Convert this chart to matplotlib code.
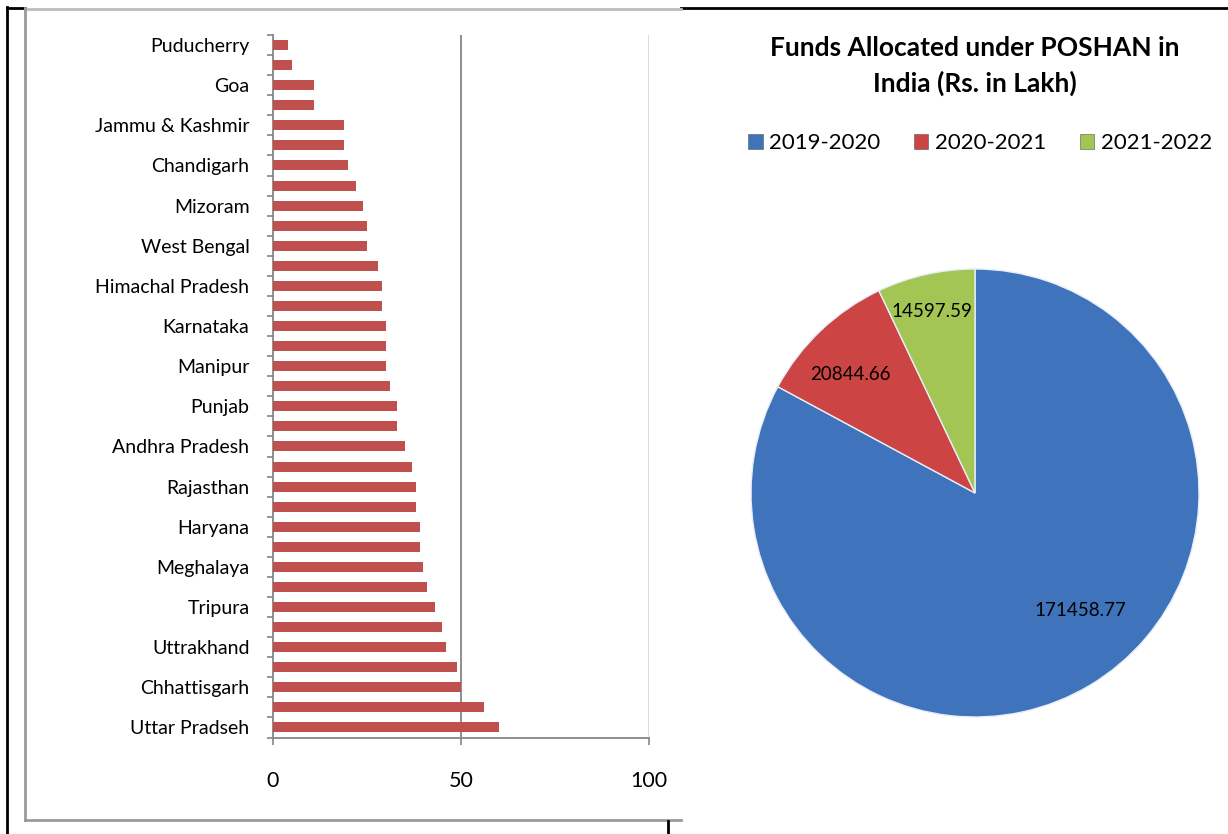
import matplotlib
matplotlib.use('Agg')
import matplotlib.pyplot as plt
from matplotlib.lines import Line2D
from matplotlib.patches import Patch
import numpy as np

plt.rcParams['font.family'] = ['Lato', 'DejaVu Sans']

# ---- data -------------------------------------------------------------
# bottom to top, as drawn (only every other category shows a label)
state_labels = ['Uttar Pradseh', '', 'Chhattisgarh', '', 'Uttrakhand', '', 'Tripura', '',
                'Meghalaya', '', 'Haryana', '', 'Rajasthan', '', 'Andhra Pradesh', '',
                'Punjab', '', 'Manipur', '', 'Karnataka', '', 'Himachal Pradesh', '',
                'West Bengal', '', 'Mizoram', '', 'Chandigarh', '', 'Jammu & Kashmir', '',
                'Goa', '', 'Puducherry']
state_values = [60, 56, 50, 49, 46, 45, 43, 41, 40, 39, 39, 38, 38, 37, 35, 33, 33, 31,
                30, 30, 30, 29, 29, 28, 25, 25, 24, 22, 20, 19, 19, 11, 11, 5, 4]
x_ticks = [0, 50, 100]

years = ['2019-2020', '2020-2021', '2021-2022']
funds = [171458.77, 20844.66, 14597.59]
pie_title = 'Funds Allocated under POSHAN in\nIndia (Rs. in Lakh)'

W, H = 1228, 834
bar_red = '#C0504D'
pie_cols = ['#3F73BC', '#CC4444', '#A3C553']
grey = '#868686'


def fx(x):
    return x / W


def fy(y):
    return 1 - y / H


fig = plt.figure(figsize=(W / 100, H / 100), dpi=100)

# ---- frame lines round the left panel --------------------------------
def pline(xs, ys, color, lw):
    fig.add_artist(Line2D([fx(x) for x in xs], [fy(y) for y in ys],
                          color=color, lw=lw, transform=fig.transFigure))

pline([7, 7], [7, 834], 'black', 2)
pline([7, 25], [7.5, 7.5], 'black', 2)
pline([681, 1228], [7.5, 7.5], 'black', 2)
pline([25, 681], [8.5, 8.5], '#bdbdbd', 2)
pline([25, 25], [8, 820], '#9a9a9a', 2)
pline([25, 681], [820, 820], '#9a9a9a', 2)
pline([668, 668], [821, 834], 'black', 2)

# ---- bar chart ---------------------------------------------------------
ax = fig.add_axes([fx(273), fy(737.5), fx(649) - fx(273), (737.5 - 35) / H])
ypos = np.arange(len(state_values))
ax.barh(ypos, state_values, height=0.5, color=bar_red, zorder=3)
ax.axvline(50, color=grey, lw=1.3, zorder=1)
ax.axvline(100, color='#d9d9d9', lw=1.3, zorder=1)
ax.set_xlim(0, 100)
ax.set_ylim(-0.5, len(state_values) - 0.5)

ax.set_xticks(x_ticks)
ax.set_xticklabels([str(t) for t in x_ticks], fontsize=15.5)
ax.tick_params(axis='x', direction='out', length=5, width=1.2, color=grey, pad=19)

ax.set_yticks(ypos)
ax.set_yticklabels(state_labels, fontsize=14)
ax.set_yticks(np.arange(-0.5, len(state_values), 1.0), minor=True)
ax.tick_params(axis='y', which='major', length=0, pad=17)
ax.tick_params(axis='y', which='minor', direction='out', length=4.5, width=1.2, color=grey)

for s in ['top', 'right']:
    ax.spines[s].set_visible(False)
for s in ['left', 'bottom']:
    ax.spines[s].set_color(grey)
    ax.spines[s].set_linewidth(1.3)

# ---- pie chart ---------------------------------------------------------
r_px = 224
pax = fig.add_axes([fx(975 - r_px), fy(493 + r_px), 2 * r_px / W, 2 * r_px / H])
wedges, _ = pax.pie(funds, colors=pie_cols, startangle=90, counterclock=False,
                    wedgeprops=dict(edgecolor='#e8eef8', linewidth=1.0))
pax.set_xlim(-1, 1)
pax.set_ylim(-1, 1)
pax.set_aspect('equal')
pax.axis('off')

label_pos = [(0.469, -0.525), (-0.558, 0.531), (-0.192, 0.809)]
for v, (lx, ly) in zip(funds, label_pos):
    pax.text(lx, ly, f'{v:.2f}', ha='center', va='center', fontsize=13.5, color='black')

fig.text(fx(975), fy(66), pie_title, ha='center', va='center', fontsize=19,
         fontweight='bold', linespacing=1.55)

handles = [Patch(facecolor=c, edgecolor='#555555', linewidth=0.4) for c in pie_cols]
fig.legend(handles, years, loc='center', bbox_to_anchor=(fx(980), fy(143)), ncol=3,
           frameon=False, fontsize=16, handlelength=0.65, handleheight=0.65,
           handletextpad=0.3, columnspacing=1.5)

fig.savefig('out.png', dpi=100)
